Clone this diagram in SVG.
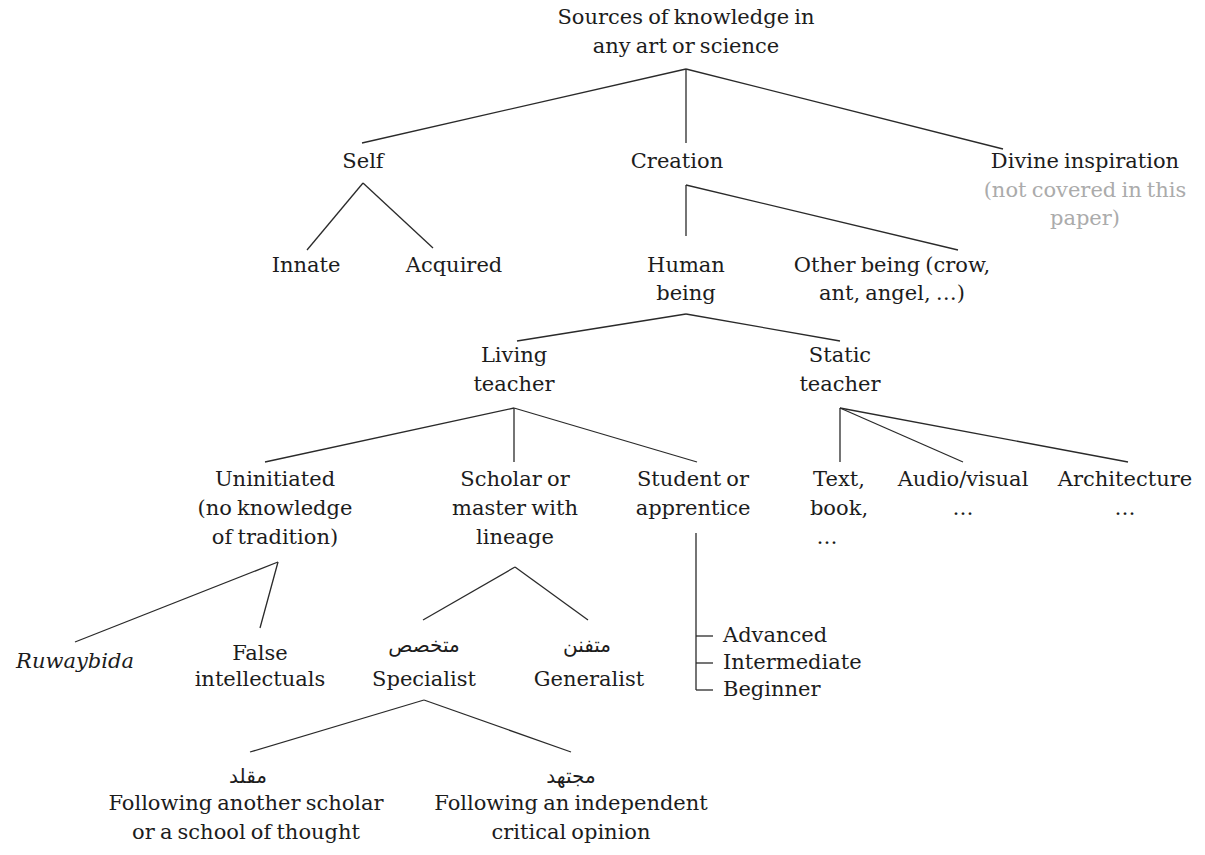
<svg xmlns="http://www.w3.org/2000/svg" width="1205" height="855" viewBox="0 0 1205 855">
  <style>
    .t { font-family: "DejaVu Serif", "Liberation Serif", serif; font-size: 21px; fill: #1c1c1c; text-anchor: middle; word-spacing: -1.5px; }
    .s { text-anchor: start; }
    .i { font-style: italic; }
    .muted { fill: #ababab; }
    .ar { font-family: "DejaVu Sans", "Noto Sans", sans-serif; font-size: 20px; fill: #1c1c1c; text-anchor: middle; }
    .edges line { stroke: #2a2a2a; stroke-width: 1.3; fill: none; }
  </style>
  <rect width="1205" height="855" fill="#ffffff"/>

  <!-- connectors -->
  <g class="edges" id="connectors">
    <line x1="686" y1="69" x2="362" y2="143"/>
    <line x1="686" y1="69" x2="686" y2="143"/>
    <line x1="686" y1="69" x2="1003" y2="149"/>
    <line x1="363" y1="183" x2="307" y2="250"/>
    <line x1="363" y1="183" x2="433" y2="248"/>
    <line x1="686" y1="185" x2="686" y2="236"/>
    <line x1="686" y1="185" x2="958" y2="250"/>
    <line x1="686" y1="314" x2="517" y2="341"/>
    <line x1="686" y1="314" x2="840" y2="341"/>
    <line x1="514" y1="408" x2="265" y2="462"/>
    <line x1="514" y1="408" x2="514" y2="462"/>
    <line x1="514" y1="408" x2="697" y2="462"/>
    <line x1="840" y1="408" x2="840" y2="462"/>
    <line x1="840" y1="408" x2="963" y2="462"/>
    <line x1="840" y1="408" x2="1128" y2="462"/>
    <line x1="278" y1="562" x2="75" y2="642"/>
    <line x1="278" y1="562" x2="260" y2="628"/>
    <line x1="515" y1="567" x2="423" y2="620"/>
    <line x1="515" y1="567" x2="588" y2="620"/>
    <line x1="424" y1="700" x2="250" y2="752"/>
    <line x1="424" y1="700" x2="571" y2="752"/>
    <!-- level bracket under the apprentice node -->
    <line x1="696" y1="533" x2="696" y2="690"/>
    <line x1="696" y1="636" x2="713" y2="636"/>
    <line x1="696" y1="663" x2="713" y2="663"/>
    <line x1="696" y1="690" x2="713" y2="690"/>
  </g>

  <g id="root"><text class="t" x="686" y="24">Sources of knowledge in</text><text class="t" x="686" y="53">any art or science</text></g>
  <g id="self"><text class="t" x="363" y="168">Self</text></g>
  <g id="creation"><text class="t" x="677" y="168">Creation</text></g>
  <g id="divine"><text class="t" x="1085" y="168">Divine inspiration</text><text class="t muted" x="1085" y="197">(not covered in this</text><text class="t muted" x="1085" y="225">paper)</text></g>
  <g id="innate"><text class="t" x="306" y="272">Innate</text></g>
  <g id="acquired"><text class="t" x="454" y="272">Acquired</text></g>
  <g id="human"><text class="t" x="686" y="272">Human</text><text class="t" x="686" y="300">being</text></g>
  <g id="other"><text class="t" x="892" y="272">Other being (crow,</text><text class="t" x="892" y="300">ant, angel, …)</text></g>
  <g id="living"><text class="t" x="514" y="362">Living</text><text class="t" x="514" y="391">teacher</text></g>
  <g id="static"><text class="t" x="840" y="362">Static</text><text class="t" x="840" y="391">teacher</text></g>
  <g id="uninitiated"><text class="t" x="275" y="486">Uninitiated</text><text class="t" x="275" y="515">(no knowledge</text><text class="t" x="275" y="544">of tradition)</text></g>
  <g id="scholar"><text class="t" x="515" y="486">Scholar or</text><text class="t" x="515" y="515">master with</text><text class="t" x="515" y="544">lineage</text></g>
  <g id="student"><text class="t" x="693" y="486">Student or</text><text class="t" x="693" y="515">apprentice</text></g>
  <g id="text-book"><text class="t" x="839" y="486">Text,</text><text class="t" x="839" y="515">book,</text><text class="t" x="827" y="544">…</text></g>
  <g id="audio-visual"><text class="t" x="963" y="486">Audio/visual</text><text class="t" x="963" y="515">…</text></g>
  <g id="architecture"><text class="t" x="1125" y="486">Architecture</text><text class="t" x="1125" y="515">…</text></g>
  <g id="ruwaybida"><text class="t i" x="75" y="668">Ruwaybida</text></g>
  <g id="false-intellectuals"><text class="t" x="260" y="660">False</text><text class="t" x="260" y="686">intellectuals</text></g>
  <g id="specialist"><text class="ar" x="424" y="652">متخصص</text><text class="t" x="424" y="686">Specialist</text></g>
  <g id="generalist"><text class="ar" x="587" y="652">متفنن</text><text class="t" x="589" y="686">Generalist</text></g>
  <g id="levels"><text class="t s" x="723" y="642">Advanced</text><text class="t s" x="723" y="669">Intermediate</text><text class="t s" x="723" y="696">Beginner</text></g>
  <g id="muqallid"><text class="ar" x="248" y="783">مقلد</text><text class="t" x="246" y="810">Following another scholar</text><text class="t" x="246" y="839">or a school of thought</text></g>
  <g id="mujtahid"><text class="ar" x="571" y="783">مجتهد</text><text class="t" x="571" y="810">Following an independent</text><text class="t" x="571" y="839">critical opinion</text></g>
</svg>
